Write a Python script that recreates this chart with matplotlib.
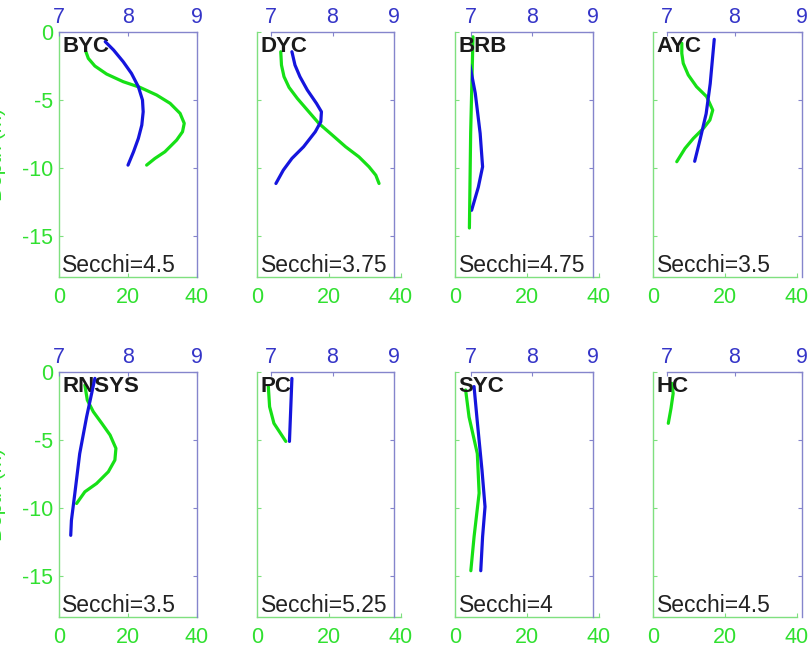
import matplotlib
matplotlib.use("Agg")
import matplotlib.pyplot as plt

plt.rcParams["font.family"] = ["Liberation Sans", "DejaVu Sans"]
plt.rcParams["axes.unicode_minus"] = False

# site names and Secchi depths
sites = ["BYC", "DYC", "BRB", "AYC", "RNSYS", "PC", "SYC", "HC"]
secchi = ["4.5", "3.75", "4.75", "3.5", "3.5", "5.25", "4", "4.5"]

# green profiles (bottom axis, 0-40)
byc_g_depth = [-1.45, -1.94, -2.5, -3.09, -3.65, -4.07, -4.63, -5.24, -5.98,
               -6.71, -7.33, -7.94, -8.8, -9.29, -9.78]
byc_g = [7.8, 8.5, 10.4, 13.8, 18.6, 23.5, 28.3, 32.2, 35.1,
         36.3, 35.8, 34.1, 30.7, 27.8, 25.4]
dyc_g_depth = [-1.45, -2.43, -3.28, -4.07, -4.88, -5.74, -6.72, -7.57, -8.43,
               -9.17, -9.9, -10.52, -11.13]
dyc_g = [6.6, 6.8, 7.5, 8.9, 11.2, 14.0, 17.2, 20.9, 24.6,
         28.3, 31.1, 33.0, 33.9]
brb_g_depth = [-0.35, -7.4, -14.4]
brb_g = [5.0, 4.35, 4.0]
ayc_g_depth = [-0.83, -1.57, -2.3, -3.16, -4.02, -4.75, -5.74, -6.47, -7.08,
               -7.82, -8.55, -9.53]
ayc_g = [8.0, 8.0, 8.4, 9.8, 12.1, 14.9, 16.6, 15.8, 14.0, 11.2, 8.9, 6.6]
rnsys_g_depth = [-0.96, -2.06, -2.92, -3.77, -4.63, -5.61, -6.47, -7.33, -8.19,
                 -8.8, -9.66]
rnsys_g = [7.5, 8.2, 9.95, 12.4, 14.8, 16.5, 16.2, 14.3, 10.9, 7.5, 5.1]
pc_g_depth = [-1.07, -2.55, -3.77, -5.1]
pc_g = [3.15, 3.5, 4.7, 8.0]
syc_g_depth = [-1.32, -3.3, -6.0, -8.9, -12.1, -14.6]
syc_g = [2.95, 3.9, 6.2, 6.7, 5.3, 4.4]
hc_g_depth = [-0.83, -1.57, -2.67, -3.77]
hc_g = [5.2, 5.6, 5.0, 4.25]

# blue profiles (top axis, 7-9)
byc_b_depth = [-0.71, -1.32, -2.18, -3.04, -4.02, -5.0, -5.86, -6.84, -7.82,
               -8.8, -9.78]
byc_b = [7.67, 7.79, 7.93, 8.05, 8.15, 8.21, 8.22, 8.20, 8.15, 8.08, 8.0]
dyc_b_depth = [-1.45, -2.43, -3.28, -4.26, -5.25, -5.86, -6.59, -7.33, -8.43,
               -9.29, -10.15, -11.13]
dyc_b = [7.34, 7.39, 7.47, 7.59, 7.74, 7.82, 7.81, 7.72, 7.53, 7.34, 7.20, 7.08]
brb_b_depth = [-2.4, -4.5, -7.45, -9.9, -11.4, -13.1]
brb_b = [6.98, 7.07, 7.15, 7.19, 7.12, 7.01]
ayc_b_depth = [-0.54, -3.8, -6.0, -7.9, -9.5]
ayc_b = [7.70, 7.64, 7.58, 7.49, 7.41]
rnsys_b_depth = [-0.47, -3.3, -6.0, -8.9, -10.9, -12.0]
rnsys_b = [7.52, 7.40, 7.30, 7.23, 7.18, 7.17]
pc_b_depth = [-0.47, -2.8, -5.1]
pc_b = [7.34, 7.32, 7.30]
syc_b_depth = [-1.07, -3.5, -7.2, -9.9, -12.1, -14.6]
syc_b = [7.05, 7.10, 7.18, 7.23, 7.19, 7.16]
hc_b_depth = []
hc_b = []

green_depths = [byc_g_depth, dyc_g_depth, brb_g_depth, ayc_g_depth,
                rnsys_g_depth, pc_g_depth, syc_g_depth, hc_g_depth]
green_vals = [byc_g, dyc_g, brb_g, ayc_g, rnsys_g, pc_g, syc_g, hc_g]
blue_depths = [byc_b_depth, dyc_b_depth, brb_b_depth, ayc_b_depth,
               rnsys_b_depth, pc_b_depth, syc_b_depth, hc_b_depth]
blue_vals = [byc_b, dyc_b, brb_b, ayc_b, rnsys_b, pc_b, syc_b, hc_b]

W, H = 811, 650
G_LINE = "#16e016"
B_LINE = "#1515dd"
G_TXT = "#30e030"
B_TXT = "#3535c8"
G_SPINE = "#7fe07f"
B_SPINE = "#8585cc"

g_left = [59, 257, 455, 653]
g_right = [197, 401, 599, 797]
b_left = [59, 271, 471, 667]
b_right = [197, 394, 593, 802]
row_top = [32, 372]
row_bot = [277, 617]


def box(l, r, t, b):
    return [l / W, 1 - b / H, (r - l) / W, (b - t) / H]


fig = plt.figure(figsize=(W / 100, H / 100), dpi=100)

for i, name in enumerate(sites):
    row, col = divmod(i, 4)
    t, b = row_top[row], row_bot[row]

    axg = fig.add_axes(box(g_left[col], g_right[col], t, b))
    axg.plot(green_vals[i], green_depths[i], color=G_LINE, lw=2.3,
             solid_capstyle="round", solid_joinstyle="round")
    axg.set_xlim(0, 40)
    axg.set_ylim(-18, 0)
    axg.set_xticks([0, 20, 40])
    axg.set_yticks([0, -5, -10, -15])
    for s in ("top", "right"):
        axg.spines[s].set_visible(False)
    for s in ("left", "bottom"):
        axg.spines[s].set_color(G_SPINE)
        axg.spines[s].set_linewidth(1.0)
    axg.tick_params(direction="in", length=3, color=G_SPINE,
                    labelcolor=G_TXT, labelsize=15.5)
    axg.tick_params(axis="x", pad=7)
    axg.tick_params(axis="y", pad=4)
    if col != 0:
        axg.set_yticklabels([])

    axb = fig.add_axes(box(b_left[col], b_right[col], t, b))
    axb.patch.set_alpha(0)
    if blue_vals[i]:
        axb.plot(blue_vals[i], blue_depths[i], color=B_LINE, lw=2.3,
                 solid_capstyle="round", solid_joinstyle="round")
    axb.set_xlim(7, 9)
    axb.set_ylim(-18, 0)
    axb.set_xticks([7, 8, 9])
    axb.set_yticks([0, -5, -10, -15])
    axb.xaxis.tick_top()
    axb.yaxis.tick_right()
    axb.set_yticklabels([])
    for s in ("bottom", "left"):
        axb.spines[s].set_visible(False)
    for s in ("top", "right"):
        axb.spines[s].set_color(B_SPINE)
        axb.spines[s].set_linewidth(1.0)
    axb.tick_params(direction="in", length=3, color=B_SPINE,
                    labelcolor=B_TXT, labelsize=15.5, pad=3)

    axg.text(0.025, 0.982, name, transform=axg.transAxes, ha="left", va="top",
             fontsize=16, fontweight="bold", color="#1a1a1a", zorder=5)
    axg.text(0.025, 0.022, "Secchi=" + secchi[i], transform=axg.transAxes,
             ha="left", va="baseline", fontsize=16.5, color="#222222", zorder=5)

# depth label, mostly cut off at the left edge like the original
for row in range(2):
    yc = 1 - (row_top[row] + row_bot[row]) / 2 / H
    fig.text(-3 / W, yc, "Depth (m)", rotation=90, ha="center", va="center",
             color=G_TXT, fontsize=15)

fig.savefig("out.png", dpi=100)
